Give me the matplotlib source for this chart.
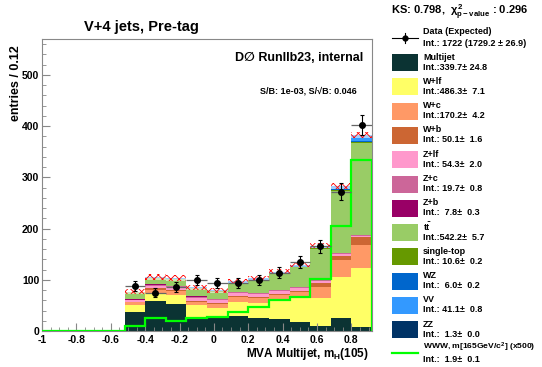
"""
V+4 jets pre-tag MVA multijet stack plot
"""
import numpy as np
import matplotlib
matplotlib.use('Agg')
import matplotlib.pyplot as plt
from matplotlib.patches import Rectangle

plt.rcParams['font.family'] = ['Liberation Sans', 'DejaVu Sans']
plt.rcParams['font.weight'] = 'bold'
plt.rcParams['axes.unicode_minus'] = False
plt.rcParams['mathtext.fontset'] = 'custom'
plt.rcParams['mathtext.rm'] = 'Liberation Sans:bold'
plt.rcParams['mathtext.it'] = 'Liberation Sans:bold'
plt.rcParams['hatch.linewidth'] = 0.6

# bins of width 0.12 from -1 to 0.92 (first four are empty)
edges_full = [-1.0, -0.88, -0.76, -0.64, -0.52, -0.40, -0.28, -0.16, -0.04,
              0.08, 0.20, 0.32, 0.44, 0.56, 0.68, 0.80, 0.92]
edges = edges_full[4:]

# background stack, bottom to top
multijet = [37, 58, 52, 28, 25, 30, 26, 23, 18, 10, 25.7, 7]
w_lf = [14, 17, 19, 23, 19, 27, 29, 38, 49.3, 55, 80, 116]
w_c = [5, 6, 8, 6, 9, 10, 10, 9, 8, 21.2, 33, 45]
w_b = [1, 2, 2, 2, 2, 2, 2, 3, 3, 8, 8, 15.1]
z_lf = [3.3, 5, 4, 6, 5, 5, 5, 5, 5, 4, 4, 3]
z_c = [1, 2, 2, 2, 2, 2, 2, 2, 2, 1, 1, 0.7]
z_b = [0.5, 1, 1, 1, 1, 1, 0.5, 0.5, 0.5, 0.3, 0.3, 0.2]
ttbar = [13.7, 12, 13, 15, 14, 16.5, 25, 31, 39, 61, 122, 180]
single_top = [0.3, 0.4, 0.4, 0.4, 0.5, 0.5, 0.6, 0.8, 1.0, 1.3, 2.0, 2.4]
wz = [0.2, 0.3, 0.3, 0.3, 0.3, 0.4, 0.4, 0.5, 0.5, 0.6, 0.9, 1.3]
vv = [0.8, 2, 2, 2, 2, 2.5, 2.5, 3, 3, 3.5, 6, 11.8]
zz = [0.05, 0.05, 0.05, 0.05, 0.05, 0.1, 0.1, 0.1, 0.1, 0.15, 0.2, 0.3]
band_err = [5, 6, 6, 5, 5, 5, 5, 5, 5, 5, 6, 6]

data = [88, 75, 86, 100, 94, 94, 99, 114, 134, 165, 272, 402]
www_x500 = [0, 0, 0, 0, 10, 25, 20, 25, 28, 38, 46, 61, 67, 101, 205, 334]

x_ticks = [-1, -0.8, -0.6, -0.4, -0.2, 0, 0.2, 0.4, 0.6, 0.8]
x_ticklabels = ['-1', '-0.8', '-0.6', '-0.4', '-0.2', '0', '0.2', '0.4', '0.6', '0.8']
y_ticks = [0, 100, 200, 300, 400, 500]

# legend entries
names = ['Multijet', 'W+lf', 'W+c', 'W+b', 'Z+lf', 'Z+c', 'Z+b',
         r'$\mathrm{t\bar{t}}$', 'single-top', 'WZ', 'VV', 'ZZ']
integrals = ['339.7', '486.3', '170.2', ' 50.1', ' 54.3', ' 19.7', '  7.8',
             '542.2', ' 10.6', '  6.0', ' 41.1', '  1.3']
int_errs = ['24.8', ' 7.1', ' 4.2', ' 1.6', ' 2.0', ' 0.8', ' 0.3',
            ' 5.7', ' 0.2', ' 0.2', ' 0.8', ' 0.0']
colors = ['#0b3333', '#ffff66', '#ff9966', '#cc6633', '#ff99cc', '#cc6699',
          '#990066', '#99cc66', '#669900', '#0066cc', '#3399ff', '#003366']
stack = [multijet, w_lf, w_c, w_b, z_lf, z_c, z_b, ttbar,
         single_top, wz, vv, zz]

fig = plt.figure(figsize=(5.42, 3.67), dpi=100)
ax = fig.add_axes([42 / 542, 1 - 331 / 367, 330 / 542, 292 / 367])

bottom = np.zeros(len(data))
for vals, c in zip(stack, colors):
    top = bottom + np.array(vals)
    ax.stairs(top, edges, baseline=bottom, fill=True, color=c, linewidth=0)
    bottom = top
total = bottom

# uncertainty band
ax.stairs(total + np.array(band_err), edges, baseline=total - np.array(band_err),
          fill=True, facecolor=(1, 1, 1, 0.55), edgecolor='red', hatch='xxxx',
          linewidth=0)

# signal line
ax.stairs(www_x500, edges_full, color='#00ff00', linewidth=1.6, zorder=4)

# data points
centers = (np.array(edges[:-1]) + np.array(edges[1:])) / 2
ax.errorbar(centers, data, xerr=0.06, fmt='none', ecolor='#666666',
            elinewidth=0.9, zorder=5)
ax.errorbar(centers, data, yerr=np.sqrt(data), fmt='o', color='black',
            ms=4, elinewidth=0.8, capsize=1.5, capthick=0.8, zorder=6)

ax.set_xlim(-1, 0.92)
ax.set_ylim(0, 570)
ax.set_xticks(x_ticks)
ax.set_xticklabels(x_ticklabels)
ax.set_yticks(y_ticks)
ax.set_xticks(np.arange(-1, 0.92, 0.05), minor=True)
ax.set_yticks(np.arange(0, 570, 20), minor=True)
ax.tick_params(which='both', direction='in', color='#888888', labelsize=7.5,
               top=False, right=False)
ax.tick_params(axis='x', pad=3)
ax.tick_params(axis='y', pad=2)
ax.tick_params(which='major', length=6)
ax.tick_params(which='minor', length=3)
for s in ax.spines.values():
    s.set_color('#888888')
    s.set_linewidth(0.8)

# overlay in pixel coordinates for texts and legend
lax = fig.add_axes([0, 0, 1, 1])
lax.set_xlim(0, 542)
lax.set_ylim(367, 0)
lax.axis('off')

lax.text(84, 27, 'V+4 jets, Pre-tag', fontsize=10.5, ha='left', va='center')
lax.text(363, 58, 'D\u2205 RunIIb23, internal', fontsize=9, ha='right', va='center')
lax.text(357, 91, 'S/B: 1e-03, S/\u221aB: 0.046', fontsize=6.5, ha='right', va='center')
lax.text(16, 45, 'entries / 0.12', fontsize=9, rotation=90, ha='center', va='top')
lax.text(369, 354, r'MVA Multijet, m$_{\rm H}$(105)', fontsize=8.5, ha='right', va='center')

lax.text(391, 12, r'KS: 0.798,  $\chi^{2}_{\rm p-value}$ : 0.296', fontsize=8,
         ha='left', va='center')

# data legend entry
lax.plot([392, 418], [38, 38], color='black', lw=0.8)
lax.plot([405, 405], [33, 43], color='black', lw=0.8)
lax.plot([405], [38], 'o', color='black', ms=3.5)
lax.text(423, 32, 'Data (Expected)', fontsize=6.5, ha='left', va='center')
lax.text(423, 43, 'Int.: 1722 (1729.2 \u00b1 26.9)', fontsize=6.5, ha='left', va='center')

y0 = 54
step = 24.3
for i, (n, c) in enumerate(zip(names, colors)):
    yt = y0 + i * step
    lax.add_patch(Rectangle((392, yt), 26, 17, facecolor=c, edgecolor='none'))
    lax.text(423, yt + 3, n, fontsize=6.5, ha='left', va='center')
    lax.text(423, yt + 13, f'Int.:{integrals[i]}\u00b1 {int_errs[i]}', fontsize=6.5,
             ha='left', va='center')

yt = y0 + len(names) * step
lax.plot([392, 418], [yt + 7, yt + 7], color='#00ff00', lw=1.6)
lax.text(423, yt + 2, r'WWW, m[165GeV/c$^{2}$] (x500)', fontsize=6.1, ha='left', va='center')
lax.text(423, yt + 14, 'Int.:  1.9\u00b1  0.1', fontsize=6.5, ha='left', va='center')

plt.savefig('out.png', dpi=100)
plt.close()
